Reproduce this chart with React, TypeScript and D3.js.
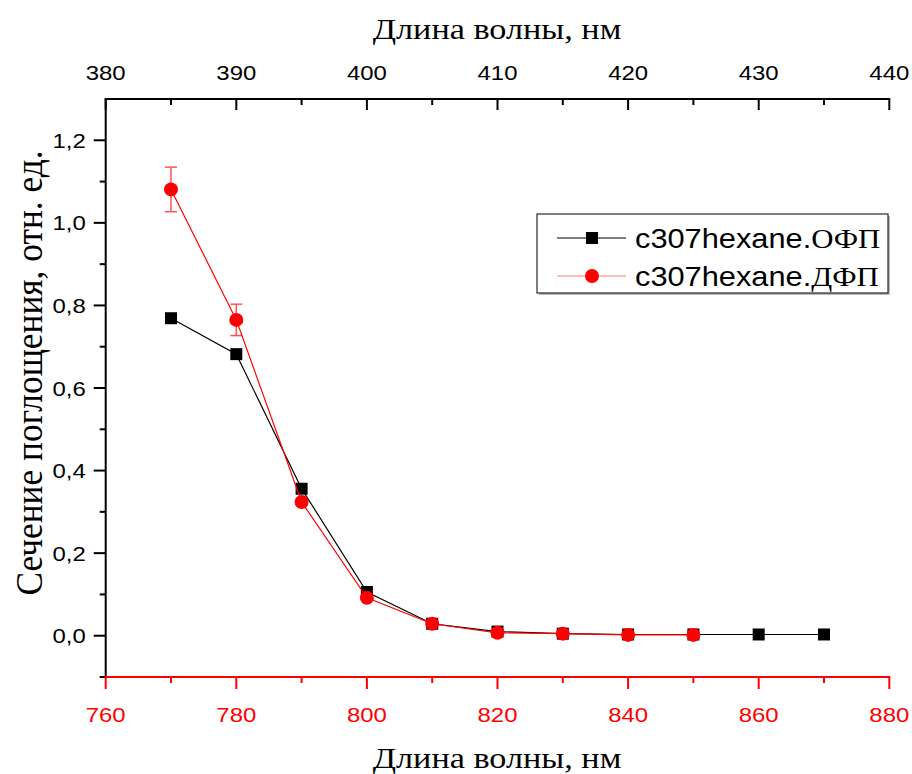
import React from "react";
import * as d3 from "d3";

// Wavelength grid (nm) for each series
const wavelengthsOFP = [770, 780, 790, 800, 810, 820, 830, 840, 850, 860, 870];
const valuesOFP = [0.769, 0.682, 0.356, 0.106, 0.029, 0.010, 0.005, 0.003, 0.003, 0.003, 0.003];

const wavelengthsDFP = [770, 780, 790, 800, 810, 820, 830, 840, 850];
const valuesDFP = [1.081, 0.765, 0.324, 0.092, 0.029, 0.007, 0.005, 0.002, 0.002];
const errorsDFP = [0.054, 0.038, 0.006, 0.003, 0.002, 0.001, 0.001, 0.001, 0.001];

const bottomTicks = [760, 780, 800, 820, 840, 860, 880];
const topTicks = [380, 390, 400, 410, 420, 430, 440];
const yTicks = [0, 0.2, 0.4, 0.6, 0.8, 1.0, 1.2];

const legendLabels = [
  { prefix: "c307hexane.", suffix: "ОФП" },
  { prefix: "c307hexane.", suffix: "ДФП" },
];

const W = 912;
const H = 774;
const left = 105.7;
const right = 889.3;
const top = 99;
const bottom = 677;

const SANS = "'Liberation Sans', Arial, sans-serif";
const SERIF = "'Liberation Serif', 'Times New Roman', serif";
// horizontal widening applied to the horizontal text
const SX = 1.14;

type TProps = {
  x: number;
  y: number;
  anchor?: "start" | "middle" | "end";
  font: string;
  size: number;
  fill?: string;
  children: React.ReactNode;
};

function WideText({ x, y, anchor = "start", font, size, fill = "#000", children }: TProps) {
  return (
    <text
      transform={`translate(${x},${y}) scale(${SX},1)`}
      dy="0.36em"
      textAnchor={anchor}
      fontFamily={font}
      fontSize={size}
      fill={fill}
    >
      {children}
    </text>
  );
}

export default function App() {
  const x = d3.scaleLinear().domain([760, 880]).range([left, right]);
  const xTop = d3.scaleLinear().domain([380, 440]).range([left, right]);
  const y = d3.scaleLinear().domain([-0.1, 1.3]).range([bottom, top]);

  const line = d3
    .line<[number, number]>()
    .x((d) => x(d[0]))
    .y((d) => y(d[1]));

  const ofp: [number, number][] = wavelengthsOFP.map((w, i) => [w, valuesOFP[i]]);
  const dfp: [number, number][] = wavelengthsDFP.map((w, i) => [w, valuesDFP[i]]);

  const bottomMinor = d3.range(770, 880, 20);
  const topMinor = d3.range(385, 440, 10);
  const yMinor = [-0.1, 0.1, 0.3, 0.5, 0.7, 0.9, 1.1];

  const fmtY = (v: number) => v.toFixed(1).replace(".", ",");

  const sq = 12;
  const r = 7;

  return (
    <svg
      width={W}
      height={H}
      style={{ position: "absolute", left: 0, top: 0, background: "#fff" }}
    >
      {/* Titles */}
      <WideText x={497} y={28} anchor="middle" font={SERIF} size={30}>
        Длина волны, нм
      </WideText>
      <WideText x={497} y={757} anchor="middle" font={SERIF} size={30}>
        Длина волны, нм
      </WideText>
      <text
        transform={`translate(42,373) rotate(-90) scale(1.04,1.1)`}
        textAnchor="middle"
        fontFamily={SERIF}
        fontSize={34}
        fill="#000"
      >
        Сечение поглощения, отн. ед.
      </text>

      {/* Left axis */}
      <line x1={left} x2={left} y1={top} y2={bottom} stroke="#000" strokeWidth={2} />
      {yTicks.map((t) => (
        <g key={`y${t}`}>
          <line x1={left - 12} x2={left} y1={y(t)} y2={y(t)} stroke="#000" strokeWidth={2} />
          <WideText x={left - 20} y={y(t)} anchor="end" font={SANS} size={21}>
            {fmtY(t)}
          </WideText>
        </g>
      ))}
      {yMinor.map((t) => (
        <line key={`ym${t}`} x1={left - 6} x2={left} y1={y(t)} y2={y(t)} stroke="#000" strokeWidth={2} />
      ))}

      {/* Top axis */}
      <line x1={left - 1} x2={right + 1} y1={top} y2={top} stroke="#000" strokeWidth={2} />
      {topTicks.map((t) => (
        <g key={`t${t}`}>
          <line x1={xTop(t)} x2={xTop(t)} y1={top} y2={top + 11} stroke="#000" strokeWidth={2} />
          <WideText x={xTop(t)} y={top - 27} anchor="middle" font={SANS} size={21}>
            {t}
          </WideText>
        </g>
      ))}
      {topMinor.map((t) => (
        <line key={`tm${t}`} x1={xTop(t)} x2={xTop(t)} y1={top} y2={top + 6} stroke="#000" strokeWidth={2} />
      ))}

      {/* Bottom axis (red) */}
      <line x1={left - 1} x2={right + 1} y1={bottom} y2={bottom} stroke="#ff0000" strokeWidth={2} />
      {bottomTicks.map((t) => (
        <g key={`b${t}`}>
          <line x1={x(t)} x2={x(t)} y1={bottom} y2={bottom + 12} stroke="#ff0000" strokeWidth={2} />
          <WideText x={x(t)} y={bottom + 37} anchor="middle" font={SANS} size={21} fill="#ff0000">
            {t}
          </WideText>
        </g>
      ))}
      {bottomMinor.map((t) => (
        <line key={`bm${t}`} x1={x(t)} x2={x(t)} y1={bottom} y2={bottom + 6} stroke="#ff0000" strokeWidth={2} />
      ))}

      {/* Series: ОФП */}
      <path d={line(ofp) ?? ""} fill="none" stroke="#000" strokeWidth={1.2} />
      {ofp.map((d, i) => (
        <rect
          key={`o${i}`}
          x={x(d[0]) - sq / 2}
          y={y(d[1]) - sq / 2}
          width={sq}
          height={sq}
          fill="#000"
        />
      ))}

      {/* Series: ДФП with error bars */}
      {dfp.map((d, i) => {
        const e = errorsDFP[i];
        const cx = x(d[0]);
        const y1 = y(d[1] + e);
        const y2 = y(d[1] - e);
        return (
          <g key={`e${i}`} stroke="#ff5555" strokeWidth={1.5}>
            <line x1={cx} x2={cx} y1={y1} y2={y2} />
            <line x1={cx - 6} x2={cx + 6} y1={y1} y2={y1} />
            <line x1={cx - 6} x2={cx + 6} y1={y2} y2={y2} />
          </g>
        );
      })}
      <path d={line(dfp) ?? ""} fill="none" stroke="#ff0000" strokeWidth={1.2} />
      {dfp.map((d, i) => (
        <circle key={`d${i}`} cx={x(d[0])} cy={y(d[1])} r={r} fill="#ff0000" />
      ))}

      {/* Legend */}
      <rect x={539} y={216} width={351} height={79} fill="#bbb" />
      <rect x={537} y={214} width={351} height={79} fill="#fff" stroke="#000" strokeWidth={1} />
      {legendLabels.map((l, i) => {
        const ly = 238 + i * 38;
        const color = i === 0 ? "#000" : "#ff0000";
        return (
          <g key={`l${i}`}>
            <line x1={557} x2={626} y1={ly} y2={ly} stroke={i === 0 ? "#000" : "#ff7777"} strokeWidth={1.2} />
            {i === 0 ? (
              <rect x={592 - sq / 2} y={ly - sq / 2} width={sq} height={sq} fill={color} />
            ) : (
              <circle cx={592} cy={ly} r={r} fill={color} />
            )}
            <WideText x={635} y={ly} font={SANS} size={27}>
              {l.prefix}
              <tspan fontFamily={SERIF}>{l.suffix}</tspan>
            </WideText>
          </g>
        );
      })}
    </svg>
  );
}
